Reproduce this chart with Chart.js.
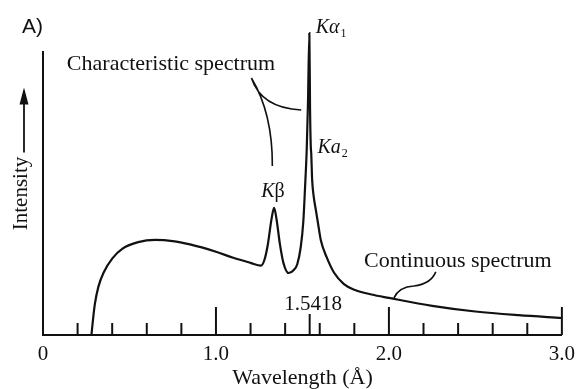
<!DOCTYPE html>
<html>
<head>
<meta charset="utf-8">
<script src="https://cdn.jsdelivr.net/npm/chart.js@4.4.1/dist/chart.umd.min.js"></script>
<style>
  html, body { margin: 0; padding: 0; background: #fff; }
  #wrap { width: 582px; height: 389px; position: relative; }
</style>
</head>
<body>
<div id="wrap"><canvas id="spectrum"></canvas></div>
<script>
// X-ray tube output: continuum plus the Cu K lines
const wavelength = [
  0.28, 0.29, 0.30, 0.32, 0.35, 0.40, 0.46, 0.55, 0.65, 0.75, 0.85, 1.00, 1.10, 1.20, 1.26,
  1.28, 1.30, 1.32, 1.336, 1.35, 1.37, 1.39, 1.42,
  1.45, 1.47, 1.49, 1.505, 1.515, 1.525, 1.532, 1.54, 1.544, 1.548, 1.551, 1.556, 1.565, 1.578,
  1.59, 1.606, 1.64, 1.683, 1.74, 1.80, 1.90, 2.00, 2.25, 2.50, 2.75, 3.00
];
const intensity = [
  0, 6, 11, 17, 22, 27, 30.5, 32.8, 33.6, 33.2, 32, 29.4, 27.3, 25.5, 24.5,
  26.5, 32, 40.5, 44.9, 41, 32, 25.5, 21.9,
  23, 25, 31, 40, 52, 66, 82, 106.7, 80, 67, 64, 55, 49, 44,
  39.5, 33.6, 27.5, 22, 18, 16, 14.3, 13.1, 10.3, 8.3, 7, 6.0
];

const labeledTicks = [0, 1, 2, 3];
const labeledText = ['0', '1.0', '2.0', '3.0'];
const kAlpha1 = 1.5418;

const INK = '#111';
const SERIF = '"Liberation Serif", "Times New Roman", serif';
const SANS = '"Liberation Sans", Arial, sans-serif';

const near = (a, b) => Math.abs(a - b) < 1e-6;

// text annotations, placed in data units
const notes = [
  { text: 'Characteristic spectrum', x: 0.138, y: 93.6, size: 22 },
  { text: 'Continuous spectrum', x: 1.856, y: 24.1, size: 22 },
  { text: '1.5418', x: 1.395, y: 8.8, size: 21 }
];
const lineNames = [
  { parts: [['K', 'i'], ['α', 'i'], ['1', 's']], x: 1.577, y: 106.6 },
  { parts: [['K', 'i'], ['a', 'i'], ['2', 's']], x: 1.587, y: 64.2 },
  { parts: [['K', 'i'], ['β', 'n']], x: 1.262, y: 48.9 }
];

const decor = {
  id: 'decor',
  afterDraw(chart) {
    const { ctx, chartArea, scales: { x, y } } = chart;
    const px = v => x.getPixelForValue(v);
    const py = v => y.getPixelForValue(v);
    ctx.save();
    ctx.strokeStyle = INK;
    ctx.fillStyle = INK;

    // axis ticks point up into the plot
    ctx.lineWidth = 2;
    const base = chartArea.bottom;
    x.ticks.forEach(t => {
      const v = t.value;
      if (v <= 0) return;
      let len = 12;
      if (near(v, Math.round(v))) len = 28;
      else if (near(v, kAlpha1)) len = 21;
      ctx.beginPath();
      ctx.moveTo(px(v), base);
      ctx.lineTo(px(v), base - len);
      ctx.stroke();
    });

    // leader lines
    ctx.lineWidth = 1.6;
    ctx.beginPath();
    ctx.moveTo(px(1.205), py(90.8));
    ctx.quadraticCurveTo(px(1.262), py(80.2), px(1.493), py(79.5));
    ctx.moveTo(px(1.205), py(90.8));
    ctx.quadraticCurveTo(px(1.328), py(78.3), px(1.326), py(59.7));
    ctx.stroke();

    ctx.beginPath();
    ctx.moveTo(px(2.029), py(13.1));
    ctx.quadraticCurveTo(px(2.058), py(17.0), px(2.144), py(17.3));
    ctx.quadraticCurveTo(px(2.242), py(18.0), px(2.271), py(22.3));
    ctx.stroke();

    // labels
    ctx.textAlign = 'left';
    ctx.textBaseline = 'alphabetic';
    notes.forEach(n => {
      ctx.font = `${n.size}px ${SERIF}`;
      ctx.fillText(n.text, px(n.x), py(n.y));
    });
    lineNames.forEach(l => {
      let cx = px(l.x);
      const cy = py(l.y);
      l.parts.forEach(([s, kind]) => {
        if (kind === 's') {
          ctx.font = `12px ${SERIF}`;
          cx += 1;
          ctx.fillText(s, cx, cy + 4);
        } else {
          ctx.font = `${kind === 'i' ? 'italic ' : ''}20px ${SERIF}`;
          ctx.fillText(s, cx, cy);
        }
        cx += ctx.measureText(s).width;
      });
    });

    // panel letter
    ctx.font = `21px ${SANS}`;
    ctx.fillText('A)', 22, 33);

    // arrow beside the intensity title
    const mid = (chartArea.top + chartArea.bottom) / 2;
    const ax = 24;
    ctx.lineWidth = 1.8;
    ctx.beginPath();
    ctx.moveTo(ax, mid - 41);
    ctx.lineTo(ax, mid - 92);
    ctx.stroke();
    ctx.beginPath();
    ctx.moveTo(ax, mid - 106);
    ctx.lineTo(ax - 4.5, mid - 89);
    ctx.lineTo(ax + 4.5, mid - 89);
    ctx.closePath();
    ctx.fill();

    ctx.restore();
  }
};

new Chart(document.getElementById('spectrum'), {
  type: 'line',
  data: {
    datasets: [{
      data: wavelength.map((w, i) => ({ x: w, y: intensity[i] })),
      borderColor: INK,
      borderWidth: 2.2,
      pointRadius: 0,
      fill: false,
      cubicInterpolationMode: 'monotone',
      clip: false
    }]
  },
  options: {
    responsive: true,
    maintainAspectRatio: false,
    animation: false,
    layout: { padding: { top: 52, right: 18, left: 0, bottom: 0 } },
    plugins: { legend: { display: false }, tooltip: { enabled: false } },
    scales: {
      x: {
        type: 'linear',
        min: 0,
        max: 3,
        afterFit: s => { s.height = 54; },
        afterBuildTicks: s => {
          s.ticks.push({ value: kAlpha1 });
          s.ticks.sort((a, b) => a.value - b.value);
        },
        grid: { display: false, drawTicks: false },
        border: { display: true, color: INK, width: 2 },
        ticks: {
          stepSize: 0.2,
          autoSkip: false,
          maxRotation: 0,
          padding: 7,
          color: INK,
          font: { family: SERIF, size: 21 },
          callback: v => {
            const k = labeledTicks.findIndex(t => near(t, v));
            return k >= 0 ? labeledText[k] : '';
          }
        },
        title: {
          display: true,
          text: 'Wavelength (Å)',
          color: INK,
          font: { family: SERIF, size: 22, lineHeight: 1 },
          padding: { top: 0, bottom: 0 }
        }
      },
      y: {
        min: 0,
        max: 100,
        afterFit: s => { s.width = 43; },
        grid: { display: false },
        border: { display: true, color: INK, width: 2 },
        ticks: { display: false },
        title: {
          display: true,
          text: 'Intensity',
          color: INK,
          font: { family: SERIF, size: 21, lineHeight: 1 },
          padding: { top: 11, bottom: 0 }
        }
      }
    }
  },
  plugins: [decor]
});
</script>
</body>
</html>
